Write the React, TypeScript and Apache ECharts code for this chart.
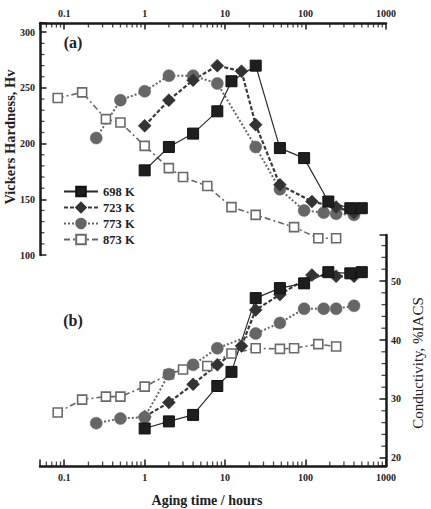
import React, { useEffect, useRef } from 'react';
import * as echarts from 'echarts';

// Aging temperatures
const TEMPS = ['698 K', '723 K', '773 K', '873 K'];

// (a) Vickers hardness, Hv, against aging time in hours
const hvTime698 = [1, 2, 4, 8, 12, 24, 48, 96, 192, 360, 500];
const hv698 = [176, 197, 209, 229, 256, 270, 196, 187, 148, 142, 142];
const hvTime723 = [1, 2, 4, 8, 16, 24, 48, 120, 240, 400];
const hv723 = [216, 239, 257, 270, 265, 217, 163, 148, 143, 138];
const hvTime773 = [0.25, 0.5, 1, 2, 4, 8, 24, 48, 96, 168, 240, 400];
const hv773 = [205, 239, 247, 261, 261, 254, 197, 159, 140, 138, 137, 136];
const hvTime873 = [0.083, 0.167, 0.33, 0.5, 1, 2, 3, 6, 12, 24, 72, 144, 240];
const hv873 = [241, 246, 222, 219, 198, 178, 170, 162, 143, 136, 125, 115, 115];

// (b) Electrical conductivity, %IACS, against aging time in hours
const ecTime698 = [1, 2, 4, 8, 12, 24, 48, 96, 192, 360, 500];
const ec698 = [25.0, 26.2, 27.3, 32.2, 34.6, 47.1, 48.8, 49.6, 51.5, 51.3, 51.5];
const ecTime723 = [1, 2, 4, 8, 16, 24, 48, 120, 240, 400];
const ec723 = [27.0, 29.4, 32.5, 35.8, 39.0, 45.1, 47.7, 51.0, 50.8, 50.8];
const ecTime773 = [0.25, 0.5, 1, 2, 4, 8, 24, 48, 96, 168, 240, 400];
const ec773 = [25.9, 26.7, 26.9, 34.2, 35.8, 38.6, 41.1, 42.9, 45.3, 45.3, 45.3, 45.8];
const ecTime873 = [0.083, 0.167, 0.33, 0.5, 1, 2, 3, 6, 12, 24, 48, 72, 144, 240];
const ec873 = [27.7, 29.9, 30.4, 30.4, 32.1, 34.2, 35.0, 35.6, 37.7, 38.6, 38.5, 38.6, 39.3, 38.9];

// Tick labels
const timeTicks = [0.1, 1, 10, 100, 1000];
const hvTicks = [100, 150, 200, 250, 300];
const ecTicks = [20, 30, 40, 50];

// Axis ranges
const T_MIN = 0.05;
const T_MAX = 1000;
const HV_MIN = 100;
const HV_MAX = 308.3;
const EC_MIN = 18.64;
const EC_MAX = 57.8;

const FONT = '"Liberation Serif", "DejaVu Serif", serif';
const INK = '#1a1a1a';

const pairs = (xs: number[], ys: number[]) => xs.map((x, i) => [x, ys[i]]);

const fmtTime = (v: number) => {
  const hit = timeTicks.find((t) => Math.abs(v - t) < t * 1e-6);
  return hit === undefined ? '' : String(hit);
};
const fmtFrom = (list: number[]) => (v: number) => {
  const hit = list.find((t) => Math.abs(v - t) < 1e-6);
  return hit === undefined ? '' : String(hit);
};

// minor tick positions
const timeMinor: number[] = [];
[0.01, 0.1, 1, 10, 100].forEach((d) => {
  for (let k = 2; k <= 9; k++) {
    const v = +(k * d).toPrecision(6);
    if (v > T_MIN + 1e-9 && v < T_MAX) timeMinor.push(v);
  }
});
const hvMinor: number[] = [];
for (let v = 110; v <= 300; v += 10) if (v % 50 !== 0) hvMinor.push(v);
const ecMinor: number[] = [];
for (let v = 20; v <= 56; v += 2) if (v % 10 !== 0) ecMinor.push(v);

type Style = {
  symbol: string;
  size: number;
  fill: string;
  border: string;
  borderWidth: number;
  line: string;
  lineWidth: number;
  dash: any;
};

const STYLES: Record<string, Style> = {
  '698 K': { symbol: 'rect', size: 11, fill: '#1e1e1e', border: '#111', borderWidth: 1, line: '#2a2a2a', lineWidth: 1.2, dash: 'solid' },
  '723 K': { symbol: 'diamond', size: 13, fill: '#333', border: '#333', borderWidth: 0.5, line: '#3a3a3a', lineWidth: 2.2, dash: [4, 2] },
  '773 K': { symbol: 'circle', size: 12, fill: '#666', border: '#666', borderWidth: 0.5, line: '#666', lineWidth: 2, dash: [2, 2] },
  '873 K': { symbol: 'rect', size: 9, fill: '#fff', border: '#6a6a6a', borderWidth: 1.6, line: '#666', lineWidth: 1.6, dash: [6, 3, 2, 3] },
};

const lineSeries = (name: string, data: number[][], grid: number) => {
  const s = STYLES[name];
  return {
    type: 'line',
    name,
    xAxisIndex: grid,
    yAxisIndex: grid,
    data,
    symbol: s.symbol,
    symbolSize: s.size,
    showAllSymbol: true,
    itemStyle: { color: s.fill, borderColor: s.border, borderWidth: s.borderWidth },
    lineStyle: { color: s.line, width: s.lineWidth, type: s.dash },
    emphasis: { disabled: true },
  };
};

// minor ticks: small bars placed on the axis lines, pushed inward
const MINOR = 4.5;
const tickSeries = (grid: number, data: number[][], vertical: boolean, dir: number) => ({
  type: 'scatter',
  xAxisIndex: grid,
  yAxisIndex: grid,
  silent: true,
  clip: false,
  z: 5,
  data,
  symbol: 'rect',
  symbolSize: vertical ? [1.3, MINOR] : [MINOR, 1.3],
  symbolOffset: vertical ? [0, (dir * MINOR) / 2] : [(dir * MINOR) / 2, 0],
  itemStyle: { color: INK },
  emphasis: { disabled: true },
});

const axisLine = { show: true, onZero: false, lineStyle: { color: INK, width: 2.5 } };
const axisTick = { show: true, inside: true, length: 6.5, lineStyle: { color: INK, width: 1.5 } };
const labelStyle = { fontFamily: FONT, fontWeight: 'bold' as const, fontSize: 10, color: '#222' };

const text = (t: string, x: number, y: number, font: string, rotation = 0) => ({
  type: 'text',
  x,
  y,
  rotation,
  style: {
    text: t,
    font,
    fill: '#222',
    align: 'center',
    verticalAlign: 'middle',
    textAlign: 'center',
    textVerticalAlign: 'middle',
  },
});

export default function App() {
  const ref = useRef<HTMLDivElement>(null);

  useEffect(() => {
    if (!ref.current) return;
    const chart = echarts.init(ref.current, undefined, { renderer: 'svg' });

    const option: any = {
      animation: false,
      backgroundColor: '#fff',
      grid: [
        { left: 40, top: 23, width: 346, height: 232 },
        { left: 40, top: 235, width: 346, height: 231 },
      ],
      xAxis: [
        {
          type: 'log',
          gridIndex: 0,
          position: 'top',
          min: T_MIN,
          max: T_MAX,
          logBase: 10,
          axisLine,
          axisTick,
          splitLine: { show: false },
          axisLabel: { ...labelStyle, margin: 5, formatter: fmtTime, showMinLabel: true, showMaxLabel: true },
        },
        {
          type: 'log',
          gridIndex: 1,
          position: 'bottom',
          min: T_MIN,
          max: T_MAX,
          logBase: 10,
          axisLine,
          axisTick,
          splitLine: { show: false },
          axisLabel: { ...labelStyle, margin: 6, formatter: fmtTime, showMinLabel: true, showMaxLabel: true },
        },
      ],
      yAxis: [
        {
          type: 'value',
          gridIndex: 0,
          position: 'left',
          min: HV_MIN,
          max: HV_MAX,
          minInterval: 50,
          maxInterval: 50,
          axisLine,
          axisTick,
          splitLine: { show: false },
          axisLabel: { ...labelStyle, margin: 5, formatter: fmtFrom(hvTicks) },
        },
        {
          type: 'value',
          gridIndex: 1,
          position: 'right',
          min: EC_MIN,
          max: EC_MAX,
          minInterval: 10,
          maxInterval: 10,
          axisLine,
          axisTick,
          splitLine: { show: false },
          axisLabel: { ...labelStyle, margin: 5, formatter: fmtFrom(ecTicks) },
        },
      ],
      legend: {
        data: TEMPS,
        orient: 'vertical',
        left: 58,
        top: 180,
        itemWidth: 34,
        itemHeight: 12,
        itemGap: 3,
        selectedMode: false,
        textStyle: { fontFamily: FONT, fontWeight: 'bold', fontSize: 12.5, color: '#222' },
      },
      graphic: [
        text('Vickers Hardness, Hv', 10, 137, `bold 14.5px ${FONT}`, Math.PI / 2),
        text('Conductivity, %IACS', 418, 363, `15px ${FONT}`, Math.PI / 2),
        text('Aging time / hours', 207, 500, `bold 14px ${FONT}`),
        text('(a)', 73, 42, `bold 16px ${FONT}`),
        text('(b)', 73, 320, `bold 16px ${FONT}`),
      ],
      series: [
        tickSeries(0, timeMinor.map((v) => [v, HV_MAX]), true, 1),
        tickSeries(0, hvMinor.map((v) => [T_MIN, v]), false, 1),
        tickSeries(1, timeMinor.map((v) => [v, EC_MIN]), true, -1),
        tickSeries(1, ecMinor.map((v) => [T_MAX, v]), false, -1),
        lineSeries('873 K', pairs(hvTime873, hv873), 0),
        lineSeries('773 K', pairs(hvTime773, hv773), 0),
        lineSeries('723 K', pairs(hvTime723, hv723), 0),
        lineSeries('698 K', pairs(hvTime698, hv698), 0),
        lineSeries('873 K', pairs(ecTime873, ec873), 1),
        lineSeries('723 K', pairs(ecTime723, ec723), 1),
        lineSeries('773 K', pairs(ecTime773, ec773), 1),
        lineSeries('698 K', pairs(ecTime698, ec698), 1),
      ],
    };

    chart.setOption(option);
    return () => chart.dispose();
  }, []);

  return (
    <div
      ref={ref}
      style={{ position: 'absolute', left: 0, top: 0, width: 431, height: 509, background: '#fff' }}
    />
  );
}
